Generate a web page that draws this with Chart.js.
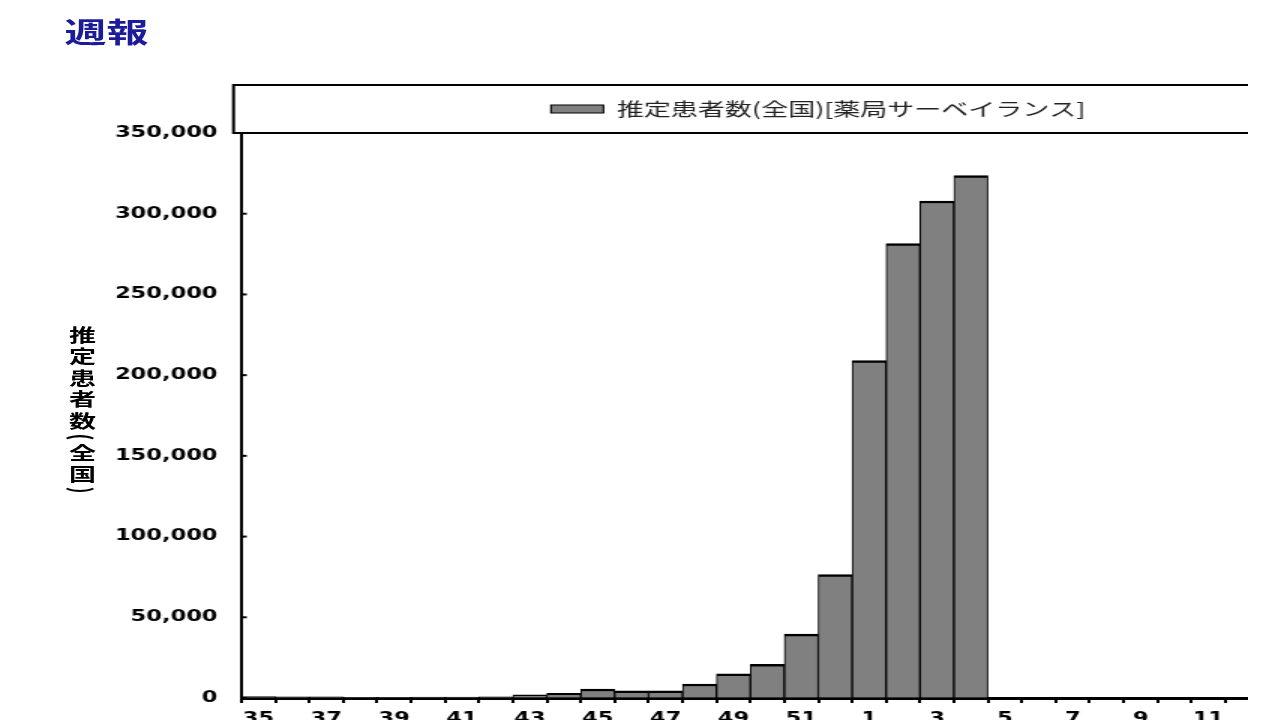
<!DOCTYPE html>
<html>
<head>
<meta charset="utf-8">
<script src="https://cdn.jsdelivr.net/npm/chart.js@4.4.1/dist/chart.umd.min.js"></script>
<style>
  html, body { margin: 0; padding: 0; background: #fff; overflow: hidden; }
  /* the source picture is stretched sideways, so the whole stage is too */
  #stage { position: absolute; left: 0; top: 0; width: 832px; height: 720px; overflow: hidden;
           transform: scaleX(1.5); transform-origin: 0 0; }
  #title { position: absolute; left: 43px; top: 17px; font: bold 28px "Noto Sans CJK JP"; line-height: 1; color: #1c1c99; }
  #ylabel { position: absolute; left: 46px; top: 326px; writing-mode: vertical-rl; font: bold 18px "Noto Sans CJK JP";
            letter-spacing: 3.5px; line-height: 1; color: #000; }
  #chart { position: absolute; left: 0; top: 0; }
</style>
</head>
<body>
<div id="stage">
  <div id="title">週報</div>
  <div id="ylabel">推定患者数(全国)</div>
  <canvas id="chart" width="940" height="740"></canvas>
</div>
<script>
'use strict';

var weeks = ['35', '36', '37', '38', '39', '40', '41', '42', '43', '44', '45', '46', '47', '48', '49', '50', '51', '52',
             '1', '2', '3', '4', '5', '6', '7', '8', '9', '10', '11', '12', '13', '14', '15', '16'];
var patients = [900, 800, 700, 400, 400, 500, 600, 700, 1900, 2900, 5600, 4400, 4400, 8700,
                15000, 20900, 39600, 76500, 209000, 281500, 307900, 323600];
var yMin = 0;
var yMax = 350000;
var yStep = 50000;
var seriesLabel = '推定患者数(全国)[薬局サーベイランス]';

// legend frame + short inner ticks on the y axis
var framePlugin = {
    id: 'frame',
    afterDraw: function (chart) {
        var ctx = chart.ctx;
        var area = chart.chartArea;
        var legend = chart.legend;
        var y = chart.scales.y;
        ctx.save();
        ctx.strokeStyle = '#000';
        ctx.lineWidth = 2;
        ctx.strokeRect(area.left - 5.3, legend.top, chart.width + 20, area.top - legend.top);
        y.ticks.forEach(function (t) {
            var py = y.getPixelForValue(t.value);
            ctx.beginPath();
            ctx.moveTo(area.left, py);
            ctx.lineTo(area.left + 3.5, py);
            ctx.stroke();
        });
        ctx.restore();
    }
};

var tickFont = { family: '"DejaVu Sans"', weight: 'bold', size: 15 };

new Chart(document.getElementById('chart'), {
    type: 'bar',
    data: {
        labels: weeks,
        datasets: [{
            label: seriesLabel,
            data: patients,
            xAxisID: 'x',
            backgroundColor: '#808080',
            borderColor: '#000',
            borderWidth: { top: 2.5, left: 1, right: 1, bottom: 0 },
            borderSkipped: 'start',
            categoryPercentage: 1,
            barPercentage: 1
        }]
    },
    options: {
        responsive: false,
        animation: false,
        devicePixelRatio: 1,
        layout: { padding: { top: 85, right: 10, left: 0, bottom: 0 } },
        plugins: {
            legend: {
                position: 'top',
                fullSize: false,
                labels: {
                    boxWidth: 35,
                    boxHeight: 8,
                    padding: 15,
                    color: '#222',
                    font: { family: '"Noto Sans CJK JP"', size: 18 }
                }
            },
            tooltip: { enabled: false }
        },
        scales: {
            x: {
                position: 'bottom',
                grid: { offset: true, drawOnChartArea: false, drawTicks: true, tickLength: 5, color: '#000', lineWidth: 2 },
                border: { color: '#000', width: 3 },
                ticks: {
                    autoSkip: false,
                    maxRotation: 0,
                    padding: 7,
                    color: '#000',
                    font: tickFont,
                    callback: function (v, i) { return i % 2 === 0 ? weeks[i] : ''; }
                },
                afterFit: function (s) { s.height = 42; }
            },
            x2: {
                type: 'category',
                position: 'top',
                labels: weeks,
                grid: { display: false },
                border: { display: false },
                ticks: { display: false },
                afterFit: function (s) { s.height = 5; }
            },
            y: {
                min: yMin,
                max: yMax,
                ticks: {
                    stepSize: yStep,
                    padding: 16,
                    color: '#000',
                    font: tickFont,
                    callback: function (v) { return v.toLocaleString('en-US'); }
                },
                grid: { drawOnChartArea: false, drawTicks: false },
                border: { color: '#000', width: 2 },
                afterFit: function (s) { s.width = 161; }
            }
        }
    },
    plugins: [framePlugin]
});
</script>
</body>
</html>
